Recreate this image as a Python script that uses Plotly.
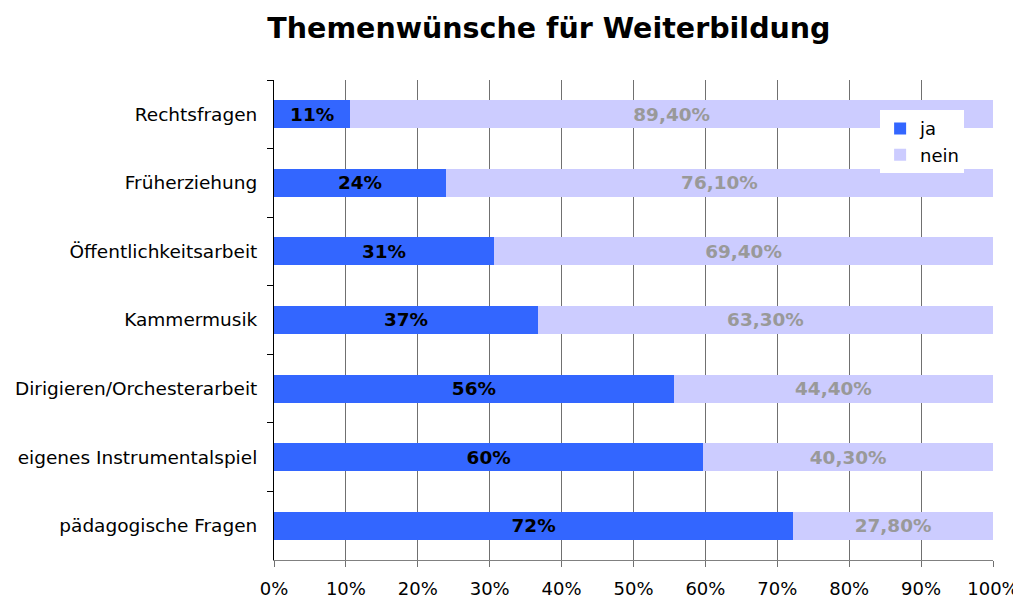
import plotly.graph_objects as go

categories = ["Rechtsfragen", "Früherziehung", "Öffentlichkeitsarbeit", "Kammermusik",
              "Dirigieren/Orchesterarbeit", "eigenes Instrumentalspiel", "pädagogische Fragen"]
nein = [89.4, 76.1, 69.4, 63.3, 44.4, 40.3, 27.8]
ja = [10.6, 23.9, 30.6, 36.7, 55.6, 59.7, 72.2]
ja_labels = ["11%", "24%", "31%", "37%", "56%", "60%", "72%"]
nein_labels = ["89,40%", "76,10%", "69,40%", "63,30%", "44,40%", "40,30%", "27,80%"]
x_ticks = [0, 10, 20, 30, 40, 50, 60, 70, 80, 90, 100]
x_tick_labels = ["0%", "10%", "20%", "30%", "40%", "50%", "60%", "70%", "80%", "90%", "100%"]

font = "DejaVu Sans, Verdana, sans-serif"

fig = go.Figure()
fig.add_trace(go.Bar(
    y=categories, x=ja, name="ja", orientation="h",
    marker=dict(color="#3366FF", line=dict(width=0)),
    text=ja_labels, textposition="inside", insidetextanchor="middle",
    textfont=dict(family=font, size=20, color="#000000", weight="bold"),
    width=0.41,
))
fig.add_trace(go.Bar(
    y=categories, x=nein, name="nein", orientation="h",
    marker=dict(color="#CCCCFF", line=dict(width=0)),
    text=nein_labels, textposition="inside", insidetextanchor="middle",
    textfont=dict(family=font, size=20, color="#999999", weight="bold"),
    width=0.41,
))

# the page places the figure 8px from the top-left corner, so the figure is
# sized to fill the remaining window area
fig.update_layout(
    barmode="stack",
    width=1013, height=590,
    margin=dict(l=266, r=28, t=72, b=38, autoexpand=False),
    paper_bgcolor="white", plot_bgcolor="white",
    title=dict(text="Themenwünsche für Weiterbildung", x=0.534, xanchor="center",
               y=0.966, yanchor="middle",
               font=dict(family=font, size=28.5, color="#000000", weight="bold")),
    font=dict(family=font, size=18, color="#000000"),
    legend=dict(x=0.843, xanchor="left", y=0.937, yanchor="top",
                bgcolor="white", borderwidth=0, traceorder="normal",
                font=dict(family=font, size=18, color="#000000"),
                itemwidth=30, tracegroupgap=0),
    showlegend=True,
)
fig.update_xaxes(
    range=[0, 100], tickvals=x_ticks, ticktext=x_tick_labels,
    showgrid=True, gridcolor="#707070", gridwidth=1,
    showline=True, linecolor="#808080", linewidth=1,
    ticks="outside", ticklen=6, tickcolor="#707070",
    tickfont=dict(family=font, size=18, color="#000000"),
    ticklabelstandoff=6,
    zeroline=False, automargin=False,
)
fig.update_yaxes(
    autorange="reversed", categoryorder="array", categoryarray=categories,
    showline=True, linecolor="#000000", linewidth=1,
    ticks="outside", tickson="boundaries", ticklen=6, tickcolor="#000000",
    tickfont=dict(family=font, size=18.5, color="#000000"),
    ticklabelstandoff=12,
    showgrid=False, automargin=False,
)

fig.write_html("out.html")
